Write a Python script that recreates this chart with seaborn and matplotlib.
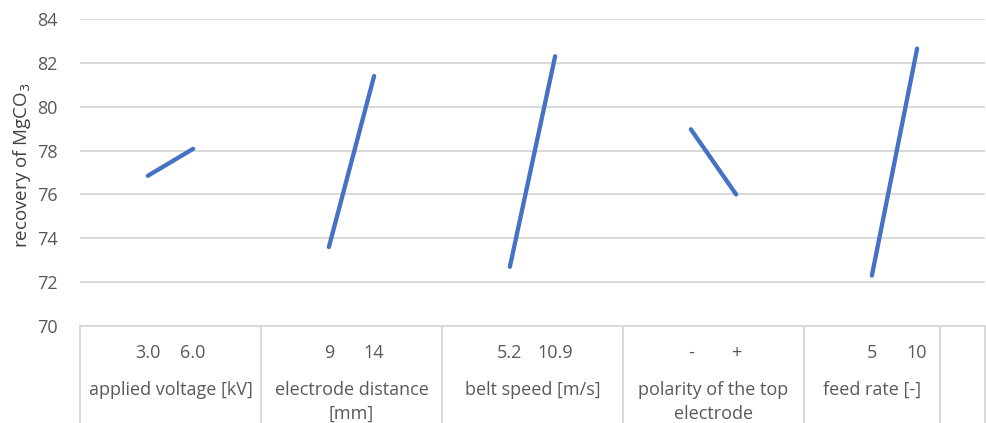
import numpy as np
import pandas as pd
import seaborn as sns
import matplotlib.pyplot as plt
import matplotlib.transforms as mtransforms

# main effects plot data
factors = ['applied voltage [kV]', 'electrode distance\n[mm]', 'belt speed [m/s]',
           'polarity of the top\nelectrode', 'feed rate [-]']
levels = [['3.0', '6.0'], ['9', '14'], ['5.2', '10.9'], ['-', '+'], ['5', '10']]
low_recovery = [76.85, 73.6, 72.7, 78.97, 72.3]
high_recovery = [78.08, 81.4, 82.3, 76.0, 82.65]
group_slots = [4, 4, 4, 4, 3, 1]   # category slots per group, last one empty

sns.set_style('white')
plt.rcParams['font.family'] = ['Open Sans', 'DejaVu Sans']

grey_txt = '#595959'
grid_col = '#D9D9D9'
line_col = '#4472C4'

# build the long table: each factor sits on slots 1 and 2 of its group
starts = np.cumsum([0] + group_slots[:-1])
rows = []
for i, f in enumerate(factors):
    rows.append({'factor': f, 'pos': starts[i] + 1, 'recovery': low_recovery[i], 'level': levels[i][0]})
    rows.append({'factor': f, 'pos': starts[i] + 2, 'recovery': high_recovery[i], 'level': levels[i][1]})
df = pd.DataFrame(rows)
n_slots = sum(group_slots)

fig = plt.figure(figsize=(9.87, 4.23), dpi=100)
ax = fig.add_axes([80 / 987, 1 - 326 / 423, 905 / 987, 307 / 423])

sns.lineplot(data=df, x='pos', y='recovery', units='factor', estimator=None,
             color=line_col, linewidth=3.1, solid_capstyle='round', ax=ax, legend=False)

ax.set_xlim(-0.5, n_slots - 0.5)
ax.set_ylim(70, 84)
ax.set_yticks(np.arange(70, 85, 2))
ax.yaxis.grid(True, color=grid_col, linewidth=1.4)
ax.set_axisbelow(True)
for s in ['top', 'right', 'left']:
    ax.spines[s].set_visible(False)
ax.spines['bottom'].set_color(grid_col)
ax.spines['bottom'].set_linewidth(1.4)
ax.tick_params(axis='y', length=0, labelsize=13, labelcolor=grey_txt, pad=16)
ax.set_xticks([])
ax.set_xlabel('')
ax.set_ylabel('recovery of MgCO$_3$', fontsize=13.5, color='#404040')
ax.yaxis.set_label_coords(-0.052, 0.525)

# category table below the axis
trans = mtransforms.blended_transform_factory(ax.transData, ax.transAxes)
bottom = -(423 - 326) / 307
edges = np.cumsum([0] + group_slots) - 0.5
for e in edges:
    ax.plot([e, e], [0, bottom], transform=trans, color=grid_col, lw=1.4, clip_on=False)

for _, r in df.iterrows():
    ax.text(r['pos'], -0.088, r['level'], transform=trans, ha='center', va='center',
            fontsize=13, color=grey_txt)
for i, f in enumerate(factors):
    centre = (edges[i] + edges[i + 1]) / 2
    ax.text(centre, -0.18, f, transform=trans, ha='center', va='top',
            fontsize=13, color=grey_txt, linespacing=1.4)

plt.savefig('out.png', dpi=100)
plt.close()
